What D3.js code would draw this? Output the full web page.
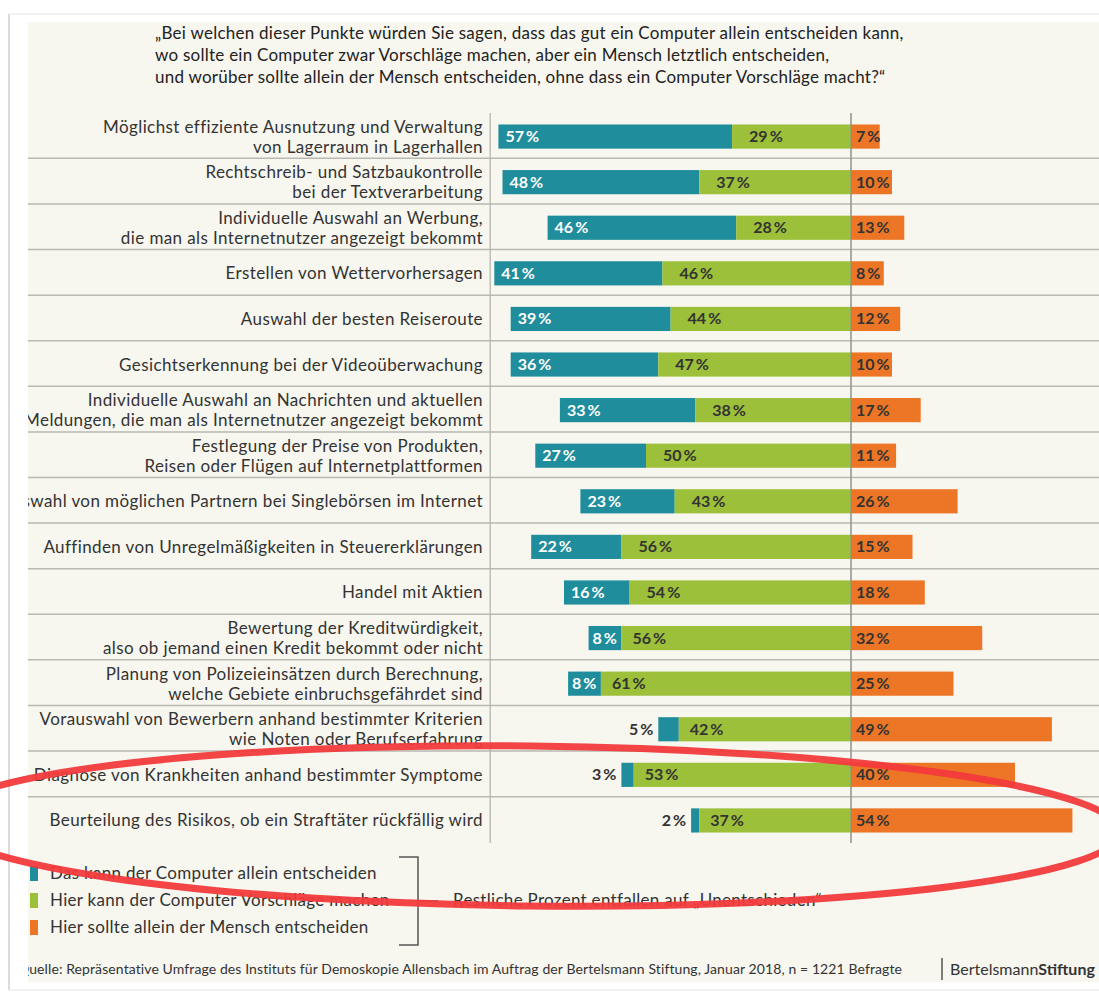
<!DOCTYPE html>
<html>
<head>
<meta charset="utf-8">
<script src="https://cdn.jsdelivr.net/npm/d3@7"></script>
<style>
  body { margin: 0; background: #fff; }
  svg text { font-family: Lato, "Open Sans", sans-serif; }
</style>
</head>
<body>
<div id="chart"></div>
<script>
var width = 1099, height = 997;

// Fragen (Zeilen), von oben nach unten
var items = [
  ["Möglichst effiziente Ausnutzung und Verwaltung", "von Lagerraum in Lagerhallen"],
  ["Rechtschreib- und Satzbaukontrolle", "bei der Textverarbeitung"],
  ["Individuelle Auswahl an Werbung,", "die man als Internetnutzer angezeigt bekommt"],
  ["Erstellen von Wettervorhersagen"],
  ["Auswahl der besten Reiseroute"],
  ["Gesichtserkennung bei der Videoüberwachung"],
  ["Individuelle Auswahl an Nachrichten und aktuellen", "Meldungen, die man als Internetnutzer angezeigt bekommt"],
  ["Festlegung der Preise von Produkten,", "Reisen oder Flügen auf Internetplattformen"],
  ["Auswahl von möglichen Partnern bei Singlebörsen im Internet"],
  ["Auffinden von Unregelmäßigkeiten in Steuererklärungen"],
  ["Handel mit Aktien"],
  ["Bewertung der Kreditwürdigkeit,", "also ob jemand einen Kredit bekommt oder nicht"],
  ["Planung von Polizeieinsätzen durch Berechnung,", "welche Gebiete einbruchsgefährdet sind"],
  ["Vorauswahl von Bewerbern anhand bestimmter Kriterien", "wie Noten oder Berufserfahrung"],
  ["Diagnose von Krankheiten anhand bestimmter Symptome"],
  ["Beurteilung des Risikos, ob ein Straftäter rückfällig wird"]
];
var computerAlone = [57, 48, 46, 41, 39, 36, 33, 27, 23, 22, 16, 8, 8, 5, 3, 2];
var suggestions   = [29, 37, 28, 46, 44, 47, 38, 50, 43, 56, 54, 56, 61, 42, 53, 37];
var humanAlone    = [7, 10, 13, 8, 12, 10, 17, 11, 26, 15, 18, 32, 25, 49, 40, 54];

var legendLabels = [
  "Das kann der Computer allein entscheiden",
  "Hier kann der Computer Vorschläge machen",
  "Hier sollte allein der Mensch entscheiden"
];
var colors = ["#1f8d9b", "#9cc03a", "#ec7626"];

var titleLines = [
  "„Bei welchen dieser Punkte würden Sie sagen, dass das gut ein Computer allein entscheiden kann,",
  "wo sollte ein Computer zwar Vorschläge machen, aber ein Mensch letztlich entscheiden,",
  "und worüber sollte allein der Mensch entscheiden, ohne dass ein Computer Vorschläge macht?“"
];

var svg = d3.select("#chart").append("svg")
  .attr("width", width)
  .attr("height", height);

svg.append("defs").append("clipPath").attr("id", "panel")
  .append("rect").attr("x", 28).attr("y", 22).attr("width", width - 28).attr("height", 960);

// panel background + frame
svg.append("rect").attr("x", 28).attr("y", 22).attr("width", width - 28).attr("height", 960)
  .attr("fill", "#f7f6ef");
svg.append("line").attr("x1", 9).attr("x2", 9).attr("y1", 14).attr("y2", 990)
  .attr("stroke", "#cfcfcf").attr("stroke-width", 1.5);
svg.append("line").attr("x1", 9).attr("x2", width).attr("y1", 14).attr("y2", 14)
  .attr("stroke", "#e6e6e6").attr("stroke-width", 1);
svg.append("line").attr("x1", 9).attr("x2", width).attr("y1", 990).attr("y2", 990)
  .attr("stroke", "#e6e6e6").attr("stroke-width", 1);

var g = svg.append("g").attr("clip-path", "url(#panel)");

// title
g.selectAll("text.title")
  .data(titleLines)
  .enter().append("text")
  .attr("class", "title")
  .attr("x", 155)
  .attr("y", function(d, i) { return 39 + i * 22; })
  .attr("font-size", 17)
  .attr("letter-spacing", 0.25)
  .attr("fill", "#222")
  .text(function(d) { return d; });

// scales
var x = d3.scaleLinear().domain([-90, 60]).range([482, 1097]);
var y = d3.scaleBand()
  .domain(d3.range(items.length))
  .range([114, 843])
  .paddingInner(0.47)
  .paddingOuter(0.23);
var step = y.step();

// row separators
g.selectAll("line.sep")
  .data(d3.range(1, items.length))
  .enter().append("line")
  .attr("class", "sep")
  .attr("x1", 28).attr("x2", width)
  .attr("y1", function(i) { return y(i) - step * 0.47 / 2 - 1; })
  .attr("y2", function(i) { return y(i) - step * 0.47 / 2 - 1; })
  .attr("stroke", "#b9b9b4").attr("stroke-width", 1.5);

// vertical dividers
[x(-88), x(0)].forEach(function(xx) {
  g.append("line")
    .attr("x1", xx).attr("x2", xx).attr("y1", 113).attr("y2", 843)
    .attr("stroke", "#b0b0ab").attr("stroke-width", 1.2);
});

// labels
var lab = g.selectAll("text.lab")
  .data(items)
  .enter().append("text")
  .attr("class", "lab")
  .attr("text-anchor", "end")
  .attr("font-size", 17)
  .attr("letter-spacing", 0.4)
  .attr("fill", "#333")
  .attr("y", function(d, i) {
    var c = y(i) + y.bandwidth() / 2;
    return d.length == 1 ? c + 6 : c - 4;
  });
lab.selectAll("tspan")
  .data(function(d) { return d; })
  .enter().append("tspan")
  .attr("x", 483)
  .attr("dy", function(d, j) { return j == 0 ? 0 : 20; })
  .text(function(d) { return d; });

var rows = d3.range(items.length);
var bh = y.bandwidth();

// bars
g.selectAll("rect.comp").data(rows).enter().append("rect")
  .attr("x", function(i) { return x(-(computerAlone[i] + suggestions[i])); })
  .attr("width", function(i) { return x(-suggestions[i]) - x(-(computerAlone[i] + suggestions[i])); })
  .attr("y", function(i) { return y(i); })
  .attr("height", bh)
  .attr("fill", colors[0]);
g.selectAll("rect.sugg").data(rows).enter().append("rect")
  .attr("x", function(i) { return x(-suggestions[i]); })
  .attr("width", function(i) { return x(0) - x(-suggestions[i]); })
  .attr("y", function(i) { return y(i); })
  .attr("height", bh)
  .attr("fill", colors[1]);
g.selectAll("rect.human").data(rows).enter().append("rect")
  .attr("x", x(0))
  .attr("width", function(i) { return x(humanAlone[i]) - x(0); })
  .attr("y", function(i) { return y(i); })
  .attr("height", bh)
  .attr("fill", colors[2]);

// redraw center divider on top of bars
g.append("line")
  .attr("x1", x(0)).attr("x2", x(0)).attr("y1", 113).attr("y2", 843)
  .attr("stroke", "#8a8a86").attr("stroke-width", 1);

function pct(v) { return v + "\u2009%"; }
function ty(i) { return y(i) + bh / 2 + 5.5; }

g.selectAll("text.vc").data(rows).enter().append("text")
  .attr("font-size", 16).attr("font-weight", "bold")
  .attr("x", function(i) {
    var x0 = x(-(computerAlone[i] + suggestions[i]));
    return computerAlone[i] < 6 ? x0 - 5 : x0 + (computerAlone[i] < 10 ? 4 : 7);
  })
  .attr("text-anchor", function(i) { return computerAlone[i] < 6 ? "end" : "start"; })
  .attr("y", ty)
  .attr("fill", function(i) { return computerAlone[i] < 6 ? "#333" : "#fff"; })
  .text(function(i) { return pct(computerAlone[i]); });

g.selectAll("text.vs").data(rows).enter().append("text")
  .attr("font-size", 16).attr("font-weight", "bold")
  .attr("x", function(i) { return x(-suggestions[i]) + (computerAlone[i] < 10 ? 11 : 17); })
  .attr("y", ty)
  .attr("fill", "#333")
  .text(function(i) { return pct(suggestions[i]); });

g.selectAll("text.vh").data(rows).enter().append("text")
  .attr("font-size", 16).attr("font-weight", "bold")
  .attr("x", x(0) + 5)
  .attr("y", ty)
  .attr("fill", "#333")
  .text(function(i) { return pct(humanAlone[i]); });

// legend
var leg = g.selectAll("g.leg").data(legendLabels).enter().append("g")
  .attr("transform", function(d, i) { return "translate(30," + (866 + i * 27) + ")"; });
leg.append("rect").attr("width", 8).attr("height", 15)
  .attr("fill", function(d, i) { return colors[i]; });
leg.append("text").attr("x", 20).attr("y", 13)
  .attr("font-size", 17).attr("letter-spacing", 0.3).attr("fill", "#333")
  .text(function(d) { return d; });

// bracket
g.append("path")
  .attr("d", "M399,857H418V945H399M418,901H438")
  .attr("fill", "none").attr("stroke", "#555").attr("stroke-width", 1.5);
g.append("text").attr("x", 453).attr("y", 906)
  .attr("font-size", 17).attr("letter-spacing", 0.3).attr("fill", "#333")
  .text("Restliche Prozent entfallen auf „Unentschieden“");

// footer
g.append("text").attr("x", 18).attr("y", 974)
  .attr("font-size", 14).attr("letter-spacing", 0.1).attr("fill", "#333")
  .text("Quelle: Repräsentative Umfrage des Instituts für Demoskopie Allensbach im Auftrag der Bertelsmann Stiftung, Januar 2018, n = 1221 Befragte");
g.append("line").attr("x1", 942).attr("x2", 942).attr("y1", 958).attr("y2", 980)
  .attr("stroke", "#555").attr("stroke-width", 1.5);
var brand = g.append("text").attr("x", 950).attr("y", 975)
  .attr("font-size", 16).attr("fill", "#333");
brand.append("tspan").text("Bertelsmann");
brand.append("tspan").attr("font-weight", "bold").text("Stiftung");

// red hand-drawn highlight
svg.append("ellipse")
  .attr("cx", 530).attr("cy", 826)
  .attr("rx", 590).attr("ry", 80)
  .attr("transform", "rotate(0.6 530 826)")
  .attr("fill", "none")
  .attr("stroke", "#f23a3c")
  .attr("stroke-opacity", 0.95)
  .attr("stroke-width", 7);
</script>
</body>
</html>
